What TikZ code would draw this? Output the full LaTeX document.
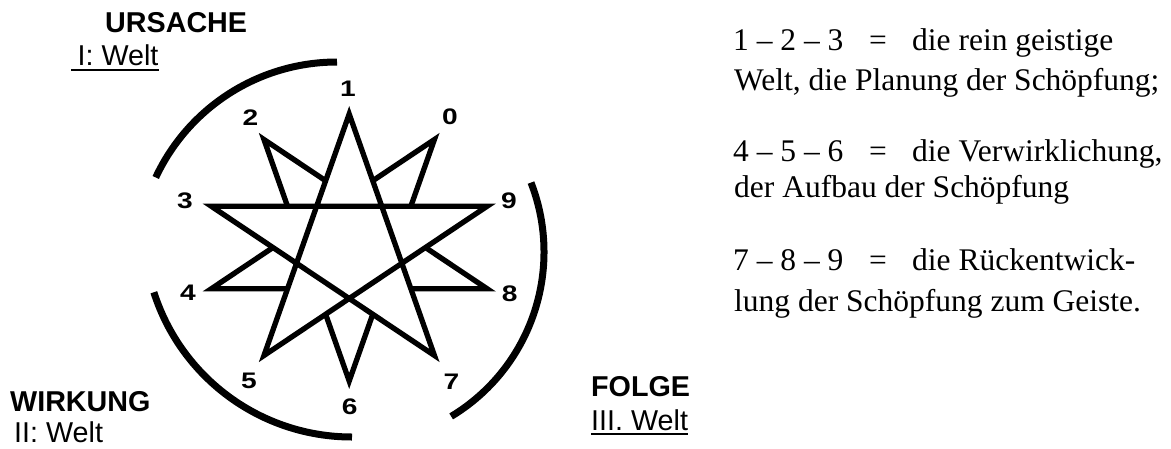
\documentclass[tikz,border=0pt]{standalone}
\usepackage{fontspec}
\usepackage{graphicx}
\setmainfont{Liberation Serif}
\newfontfamily\arialf{Liberation Sans}
\newcommand{\stardigit}[1]{\scalebox{1.25}[1]{#1}}
\begin{document}
\begin{tikzpicture}[x=1pt,y=-1pt,
  starline/.style={line width=5.3pt, line join=miter},
  whitefill/.style={fill=white, draw=none},
  arcline/.style={line width=7pt},
  lbl/.style={inner sep=0pt, anchor=center, font=\arialf\bfseries\fontsize{22.5}{22.5}\selectfont},
  head/.style={inner sep=0pt, anchor=base west, font=\arialf\bfseries\fontsize{28.7}{30}\selectfont},
  subhead/.style={inner sep=0pt, anchor=base west, font=\arialf\fontsize{28.7}{30}\selectfont},
  rt/.style={inner sep=0pt, anchor=base west, font=\fontsize{31.5}{36}\selectfont},
  uline/.style={line width=2.5pt}]
\useasboundingbox (0,0) rectangle (1171,448);

% star vertices
\coordinate (p1) at (349.2,114.0);
\coordinate (p0) at (434.43,139.5);
\coordinate (p9) at (487.11,206.25);
\coordinate (p8) at (487.11,288.75);
\coordinate (p7) at (434.43,355.5);
\coordinate (p6) at (349.2,381.0);
\coordinate (p5) at (263.97,355.5);
\coordinate (p4) at (211.29,288.75);
\coordinate (p3) at (211.29,206.25);
\coordinate (p2) at (263.97,139.5);

% rear pentagram (only spikes remain visible)
\draw[starline] (p0) -- (p6) -- (p2) -- (p8) -- (p4) -- cycle;
% front pentagram
\fill[whitefill] (p1) -- (p7) -- (p3) -- (p9) -- (p5) -- cycle;
\draw[starline] (p1) -- (p7) -- (p3) -- (p9) -- (p5) -- cycle;

% arcs
\coordinate (c1) at (337,262);
\coordinate (c2) at (352,229);
\coordinate (c3) at (352,252);
\draw[arcline] (c1) ++(205:200) arc[start angle=205, end angle=270, radius=200];
\draw[arcline] (c2) ++(90:208) arc[start angle=90, end angle=162.3, radius=208];
\draw[arcline] (c3) ++(-21.2:192) arc[start angle=-21.2, end angle=58.9, radius=192];

% digit labels
\node[lbl] (n1) at (348,89) {\stardigit{1}};
\node[lbl] (n0) at (450,116.5) {\stardigit{0}};
\node[lbl] (n9) at (509,201) {\stardigit{9}};
\node[lbl] (n8) at (509.7,294) {\stardigit{8}};
\node[lbl] (n7) at (451.5,381.5) {\stardigit{7}};
\node[lbl] (n6) at (349.7,406.5) {\stardigit{6}};
\node[lbl] (n5) at (249,381) {\stardigit{5}};
\node[lbl] (n4) at (188,293) {\stardigit{4}};
\node[lbl] (n3) at (185,201) {\stardigit{3}};
\node[lbl] (n2) at (250.5,118) {\stardigit{2}};

% headings
\node[head] (urs) at (105,32.3) {URSACHE};
\node[subhead] (w1) at (77.4,65.7) {I: Welt};
\draw[uline] ([xshift=-6.4pt,yshift=-4.3pt]w1.base west) -- ([yshift=-4.3pt]w1.base east);
\node[head] (wirk) at (10,411.7) {WIRKUNG};
\node[subhead] (w2) at (14,442) {II: Welt};
\node[head] (folge) at (591,396) {FOLGE};
\node[subhead] (w3) at (591,430) {III. Welt};
\draw[uline] ([yshift=-4pt]w3.base west) -- ([yshift=-4pt]w3.base east);

% explanation text
\node[rt] (a1) at (733,50.7) {1 – 2 – 3};
\node[rt] (e1) at (869,50.7) {=};
\node[rt] (b1) at (912,50.7) {die rein geistige};
\node[rt] (l2) at (734,90.7) {Welt, die Planung der Schöpfung;};
\node[rt] (a3) at (733,161.7) {4 – 5 – 6};
\node[rt] (e3) at (869,161.7) {=};
\node[rt] (b3) at (912,161.7) {die Verwirklichung,};
\node[rt] (l4) at (734,197.5) {der Aufbau der Schöpfung};
\node[rt] (a5) at (733,270.7) {7 – 8 – 9};
\node[rt] (e5) at (869,270.7) {=};
\node[rt] (b5) at (912,270.7) {die Rückentwick-};
\node[rt] (l6) at (734,311.3) {lung der Schöpfung zum Geiste.};
\end{tikzpicture}
\end{document}
